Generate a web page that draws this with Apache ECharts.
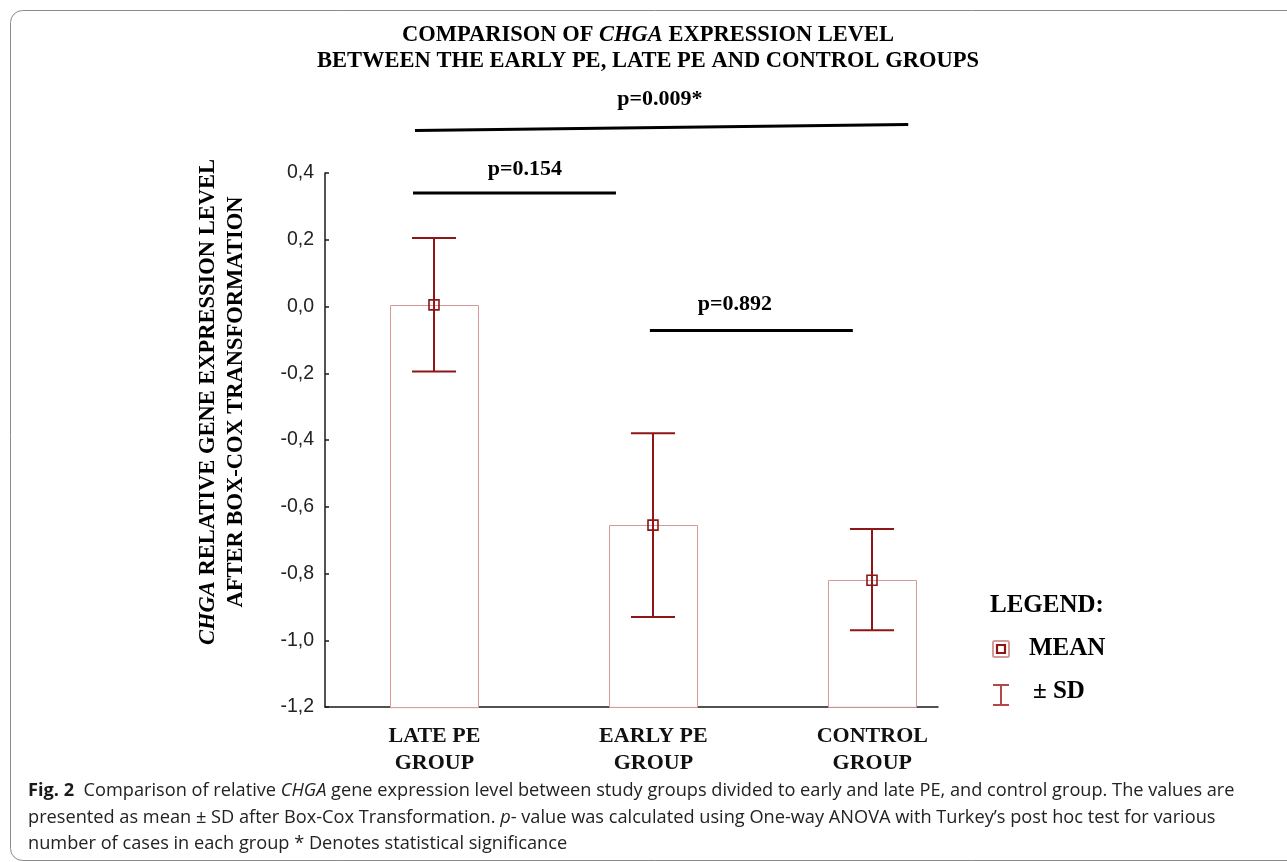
<!DOCTYPE html>
<html><head><meta charset="utf-8">
<script src="https://cdn.jsdelivr.net/npm/echarts@6/dist/echarts.min.js"></script>
<style>html,body{margin:0;padding:0;background:#fff}#c{width:1287px;height:862px}</style>
</head><body><div id="c"></div>
<script>
// ---- data ----
const categories = ['LATE PE GROUP', 'EARLY PE GROUP', 'CONTROL GROUP'];
const meanValues = [0.005, -0.655, -0.82];
const sdLow = [-0.195, -0.93, -0.97];
const sdHigh = [0.205, -0.38, -0.667];
const yMin = -1.2, yMax = 0.4, yStep = 0.2;

// significance annotations (x in category units, y in axis units)
const sigLabels = ['p=0.154', 'p=0.892', 'p=0.009*'];
const sigX1 = [-0.098, 0.984, -0.089];
const sigX2 = [0.829, 1.911, 2.164];
const sigY1 = [0.34, -0.072, 0.527];
const sigY2 = [0.34, -0.072, 0.545];
const sigLabelX = [0.413, 1.372, 1.03];
const sigLabelY = [0.41, 0.006, 0.62];

const ERR = '#8e1616';
const BAR = '#d69898';
const SERIF = '"Liberation Serif","DejaVu Serif",serif';
const SANS = '"Liberation Sans",Arial,sans-serif';
const CAP = '"Open Sans",sans-serif';

const chart = echarts.init(document.getElementById('c'), null, {renderer: 'canvas'});

const barData = categories.map((c, i) => [i, meanValues[i]]);
const errData = categories.map((c, i) => [i, sdLow[i], sdHigh[i], meanValues[i]]);
const sigData = sigLabels.map((l, i) => [sigX1[i], sigY1[i], sigX2[i], sigY2[i], sigLabelX[i], sigLabelY[i]]);

function renderBar(params, api) {
  const x = api.value(0), m = api.value(1);
  const top = api.coord([x, m]);
  const bot = api.coord([x, yMin]);
  const cx = Math.round(top[0]);
  return {type: 'rect', shape: {x: cx - 44 + 0.5, y: Math.round(top[1]) + 0.5, width: 88, height: bot[1] - top[1]},
    style: {fill: '#fff', stroke: BAR, lineWidth: 1}};
}
function renderErr(params, api) {
  const x = api.value(0), lo = api.value(1), hi = api.value(2), m = api.value(3);
  const pLo = api.coord([x, lo]), pHi = api.coord([x, hi]), pM = api.coord([x, m]);
  const cx = Math.round(pLo[0]);
  const s = {stroke: ERR, lineWidth: 2, fill: null};
  return {type: 'group', children: [
    {type: 'line', shape: {x1: cx, y1: pHi[1], x2: cx, y2: pLo[1]}, style: s},
    {type: 'line', shape: {x1: cx - 22, y1: pHi[1], x2: cx + 22, y2: pHi[1]}, style: s},
    {type: 'line', shape: {x1: cx - 22, y1: pLo[1], x2: cx + 22, y2: pLo[1]}, style: s},
    {type: 'rect', shape: {x: cx - 5, y: pM[1] - 5, width: 10, height: 10}, style: {stroke: ERR, lineWidth: 1.6, fill: 'rgba(0,0,0,0)'}}
  ]};
}
function renderSig(params, api) {
  const p1 = api.coord([api.value(0), api.value(1)]);
  const p2 = api.coord([api.value(2), api.value(3)]);
  const pl = api.coord([api.value(4), api.value(5)]);
  return {type: 'group', children: [
    {type: 'line', shape: {x1: p1[0], y1: p1[1], x2: p2[0], y2: p2[1]}, style: {stroke: '#000', lineWidth: 3}},
    {type: 'text', x: pl[0], y: pl[1], style: {text: sigLabels[params.dataIndex], align: 'center', verticalAlign: 'middle',
      font: 'bold 22px ' + SERIF, fill: '#000'}}
  ]};
}

const option = {
  animation: false,
  backgroundColor: '#fff',
  grid: {left: 325, right: 349, top: 173, bottom: 155, containLabel: false, outerBoundsMode: 'none'},
  xAxis: {
    type: 'value', min: -0.5, max: 2.3,
    splitLine: {show: false},
    axisLine: {onZero: false, lineStyle: {color: '#1a1a1a', width: 1.5}},
    axisTick: {show: true, inside: true, length: 4, customValues: [0, 1, 2], lineStyle: {color: '#1a1a1a', width: 1.5}},
    axisLabel: {customValues: [0, 1, 2], margin: 16,
      formatter: v => (categories[Math.round(v)] || '').replace(' GROUP', '\nGROUP'),
      fontFamily: SERIF, fontWeight: 'bold', fontSize: 22, lineHeight: 27, color: '#111'}
  },
  yAxis: {
    type: 'value', min: yMin, max: yMax, interval: yStep,
    splitLine: {show: false},
    axisLine: {show: true, onZero: false, lineStyle: {color: '#1a1a1a', width: 1.5}},
    axisTick: {show: true, inside: true, length: 4, lineStyle: {color: '#1a1a1a', width: 1.5}},
    axisLabel: {margin: 11, fontFamily: SANS, fontSize: 19.5, color: '#222',
      formatter: v => (Math.abs(v) < 1e-9 ? 0 : v).toFixed(1).replace('.', ',')}
  },
  series: [
    {type: 'custom', name: 'bars', renderItem: renderBar, data: barData, encode: {x: 0, y: 1}, z: 2},
    {type: 'custom', name: 'sd', renderItem: renderErr, data: errData, encode: {x: 0, y: [1, 2]}, z: 3},
    {type: 'custom', name: 'sig', renderItem: renderSig, data: sigData, clip: false, encode: {x: [0, 2], y: [1, 3]}, z: 4}
  ],
  graphic: [
    {type: 'rect', shape: {x: 10.5, y: 10.5, width: 1290, height: 850, r: 12}, style: {fill: 'none', stroke: '#8a8a8a', lineWidth: 1}, z: -10, silent: true},
    {type: 'text', x: 648, y: 22, style: {text: '{b|COMPARISON OF }{i|CHGA}{b| EXPRESSION LEVEL}\n{b|BETWEEN THE EARLY PE, LATE PE AND CONTROL GROUPS}',
      align: 'center', verticalAlign: 'top', lineHeight: 26, fill: '#000',
      rich: {b: {font: 'bold 22.5px ' + SERIF, lineHeight: 26}, i: {font: 'italic bold 22.5px ' + SERIF, lineHeight: 26}}}},
    {type: 'text', x: 222, y: 402, rotation: Math.PI / 2, style: {
      text: '{i|CHGA}{b| RELATIVE GENE EXPRESSION LEVEL}\n{b|AFTER BOX-COX TRANSFORMATION}',
      align: 'center', verticalAlign: 'middle', fill: '#000',
      rich: {b: {font: 'bold 22.5px ' + SERIF, lineHeight: 28}, i: {font: 'italic bold 22.5px ' + SERIF, lineHeight: 28}}}},
    // legend
    {type: 'text', x: 990, y: 606, style: {text: 'LEGEND:', font: 'bold 25px ' + SERIF, fill: '#000', align: 'left', verticalAlign: 'middle'}},
    {type: 'rect', shape: {x: 993, y: 641, width: 16, height: 16, r: 1.5}, style: {fill: 'none', stroke: '#d79a9a', lineWidth: 2}},
    {type: 'rect', shape: {x: 997, y: 645, width: 8, height: 8}, style: {fill: 'none', stroke: '#8e1616', lineWidth: 2.2}},
    {type: 'text', x: 1029, y: 649, style: {text: 'MEAN', font: 'bold 25px ' + SERIF, fill: '#000', align: 'left', verticalAlign: 'middle'}},
    {type: 'polyline', shape: {points: [[993, 685], [1009, 685]]}, style: {stroke: '#b24848', lineWidth: 2}},
    {type: 'polyline', shape: {points: [[1001, 685], [1001, 705]]}, style: {stroke: '#b24848', lineWidth: 2}},
    {type: 'polyline', shape: {points: [[993, 705], [1009, 705]]}, style: {stroke: '#b24848', lineWidth: 2}},
    {type: 'text', x: 1033, y: 692, style: {text: '± SD', font: 'bold 25px ' + SERIF, fill: '#000', align: 'left', verticalAlign: 'middle'}},
    // caption
    {type: 'text', x: 28, y: 791, style: {
      text: '{fb|Fig. 2}  Comparison of relative {it|CHGA} gene expression level between study groups divided to early and late PE, and control group. The values are',
      font: '18.2px ' + CAP, fill: '#222', align: 'left', verticalAlign: 'middle',
      rich: {fb: {font: 'bold 18.2px ' + CAP, fill: '#1a1a1a'}, it: {font: 'italic 18.2px ' + CAP}}}},
    {type: 'text', x: 28, y: 818, style: {
      text: 'presented as mean ± SD after Box-Cox Transformation. {it|p}- value was calculated using One-way ANOVA with Turkey’s post hoc test for various',
      font: '18.2px ' + CAP, fill: '#222', align: 'left', verticalAlign: 'middle',
      rich: {it: {font: 'italic 18.2px ' + CAP}}}},
    {type: 'text', x: 28, y: 844, style: {
      text: 'number of cases in each group * Denotes statistical significance',
      font: '18.2px ' + CAP, fill: '#222', align: 'left', verticalAlign: 'middle'}}
  ]
};
chart.setOption(option);
</script></body></html>
